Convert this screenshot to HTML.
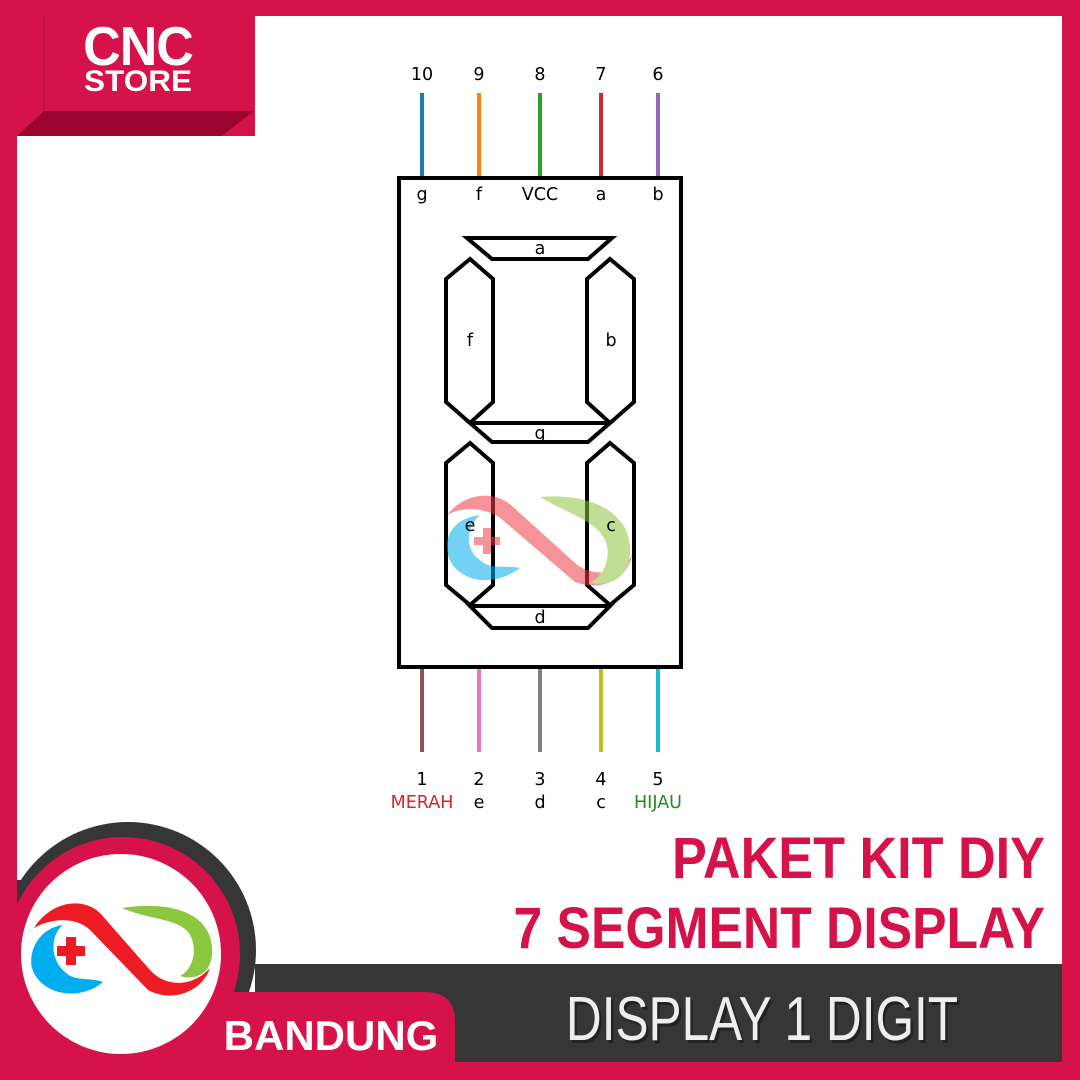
<!DOCTYPE html>
<html><head><meta charset="utf-8"><style>
html,body{margin:0;padding:0;width:1080px;height:1080px;overflow:hidden;background:#d6124a}
svg{display:block}
</style></head><body>
<svg width="1080" height="1080" viewBox="0 0 1080 1080" xmlns="http://www.w3.org/2000/svg">
<rect x="0" y="0" width="1080" height="1080" fill="#d6124a"/>
<rect x="17" y="136" width="1045" height="926" fill="#ffffff"/>
<rect x="255" y="16" width="807" height="130" fill="#ffffff"/>
<polygon points="45,110 255,110 222,136 17,136" fill="#9c0530"/>
<rect x="45" y="15" width="210" height="96" fill="#d6124a"/>
<line x1="44" y1="15" x2="44" y2="110" stroke="#c20f42" stroke-width="2"/>
<text x="138" y="62" text-anchor="middle" font-family="Liberation Sans, sans-serif" font-weight="bold" font-size="52" fill="#fff" transform="translate(138,0) scale(1.0,1.05) translate(-138,0)" letter-spacing="-1">CNC</text>
<text x="138" y="91" text-anchor="middle" font-family="Liberation Sans, sans-serif" font-weight="bold" font-size="30" fill="#fff" transform="translate(138,0) scale(1.05,1) translate(-138,0)">STORE</text>

<g stroke-width="4" stroke-linecap="butt">
<line x1="422" y1="93" x2="422" y2="177" stroke="#1f77b4"/>
<line x1="479" y1="93" x2="479" y2="177" stroke="#ff7f0e"/>
<line x1="540" y1="93" x2="540" y2="177" stroke="#2ca02c"/>
<line x1="601" y1="93" x2="601" y2="177" stroke="#d62728"/>
<line x1="658" y1="93" x2="658" y2="177" stroke="#9467bd"/>
<line x1="422" y1="668" x2="422" y2="752" stroke="#8c564b"/>
<line x1="479" y1="668" x2="479" y2="752" stroke="#e377c2"/>
<line x1="540" y1="668" x2="540" y2="752" stroke="#7f7f7f"/>
<line x1="601" y1="668" x2="601" y2="752" stroke="#bcbd22"/>
<line x1="658" y1="668" x2="658" y2="752" stroke="#17becf"/>
</g>
<rect x="399" y="178" width="282" height="489" fill="none" stroke="#000" stroke-width="4"/>
<g fill="none" stroke="#000" stroke-width="4" stroke-linejoin="miter">
<polygon points="467,238 612,238 588,259 492,259"/>
<polygon points="470,259 493,279 493,402 470,423 446,402 446,279"/>
<polygon points="610,259 634,279 634,402 610,423 587,402 587,279"/>
<polygon points="470,423 610,423 588,442 492,442"/>
<polygon points="470,443 493,463 493,585 470,605 446,585 446,463"/>
<polygon points="610,443 634,463 634,585 610,605 587,585 587,463"/>
<polygon points="470,606 610,606 588,628 492,628"/>
</g>
<g opacity="0.55">
<path d="M447,515 C465,492 495,490 512,506 L575,563 C592,578 622,575 632,555 C628,580 600,592 575,582 L505,522 C490,508 465,505 447,515 Z" fill="#ee3b44"/>
<path d="M540,497 C600,492 640,520 628,565 C620,585 600,585 590,583 C605,575 612,555 605,540 C595,520 570,515 540,497 Z" fill="#8dc63f"/>
<path d="M480,515 C455,518 443,535 448,555 C455,580 490,590 520,568 C505,565 490,570 480,560 C465,550 465,528 480,515 Z" fill="#00aeef"/>
<rect x="483" y="528" width="8" height="26" fill="#ee3b44"/>
<rect x="474" y="537" width="26" height="8" fill="#ee3b44"/>
</g>
<g font-family="DejaVu Sans, sans-serif" font-size="17.5" fill="#000" text-anchor="middle">
<text x="422" y="80">10</text><text x="479" y="80">9</text><text x="540" y="80">8</text><text x="601" y="80">7</text><text x="658" y="80">6</text>
<text x="422" y="200">g</text><text x="479" y="200">f</text><text x="540" y="200">VCC</text><text x="601" y="200">a</text><text x="658" y="200">b</text>
<text x="540" y="254">a</text><text x="470" y="346">f</text><text x="611" y="346">b</text><text x="540" y="439">g</text>
<text x="470" y="531">e</text><text x="611" y="531">c</text><text x="540" y="623">d</text>
<text x="422" y="785">1</text><text x="479" y="785">2</text><text x="540" y="785">3</text><text x="601" y="785">4</text><text x="658" y="785">5</text>
<text x="422" y="808" fill="#d62728">MERAH</text><text x="479" y="808">e</text><text x="540" y="808">d</text><text x="601" y="808">c</text><text x="658" y="808" fill="#228b22">HIJAU</text>
</g>

<g font-family="Liberation Sans, sans-serif" font-weight="bold" font-size="58" fill="#d6124a" text-anchor="end">
<text x="1045" y="878" transform="translate(1045,0) scale(0.9,1) translate(-1045,0)">PAKET KIT DIY</text>
<text x="1045" y="948" transform="translate(1045,0) scale(0.89,1) translate(-1045,0)">7 SEGMENT DISPLAY</text>
</g>

<rect x="255" y="964" width="807" height="98" fill="#363636"/>
<circle cx="128" cy="950" r="128" fill="#363636"/>
<rect x="17" y="880" width="20" height="182" fill="#363636"/>
<circle cx="123" cy="954" r="117" fill="#d6124a"/>
<path d="M0,992 L425,992 Q455,992 455,1022 L455,1080 L0,1080 Z" fill="#d6124a"/>
<rect x="0" y="1062" width="1080" height="18" fill="#d6124a"/>
<rect x="1062" y="0" width="18" height="1080" fill="#d6124a"/>
<rect x="0" y="136" width="17" height="944" fill="#d6124a"/>
<circle cx="121" cy="954" r="100" fill="#fff"/>
<path d="M34,928 C50,902 82,896 100,913 L150,970 C165,987 192,988 210,968 C202,992 172,1003 148,990 L92,932 C80,918 55,916 34,928 Z" fill="#ed1c24"/>
<path d="M122,908 C175,900 215,915 212,955 C210,975 195,980 180,976 C195,968 198,945 188,932 C175,918 150,920 122,908 Z" fill="#8dc63f"/>
<path d="M63,925 C40,928 28,950 32,968 C40,995 80,1002 103,982 C90,977 75,982 65,972 C50,960 50,935 63,925 Z" fill="#00aeef"/>
<rect x="66" y="937" width="10" height="28" fill="#ed1c24"/>
<rect x="57" y="946" width="28" height="10" fill="#ed1c24"/>

<text x="331" y="1050" text-anchor="middle" font-family="Liberation Sans, sans-serif" font-weight="bold" font-size="42" fill="#fff">BANDUNG</text>
<text x="762" y="1040" text-anchor="middle" font-family="Liberation Sans, sans-serif" font-size="62" fill="#222" transform="translate(762,0) scale(0.8,1) translate(-762,0)" dx="3" dy="3">DISPLAY 1 DIGIT</text>
<text x="762" y="1040" text-anchor="middle" font-family="Liberation Sans, sans-serif" font-size="62" fill="#eeeeee" transform="translate(762,0) scale(0.8,1) translate(-762,0)">DISPLAY 1 DIGIT</text>
</svg>
</body></html>
